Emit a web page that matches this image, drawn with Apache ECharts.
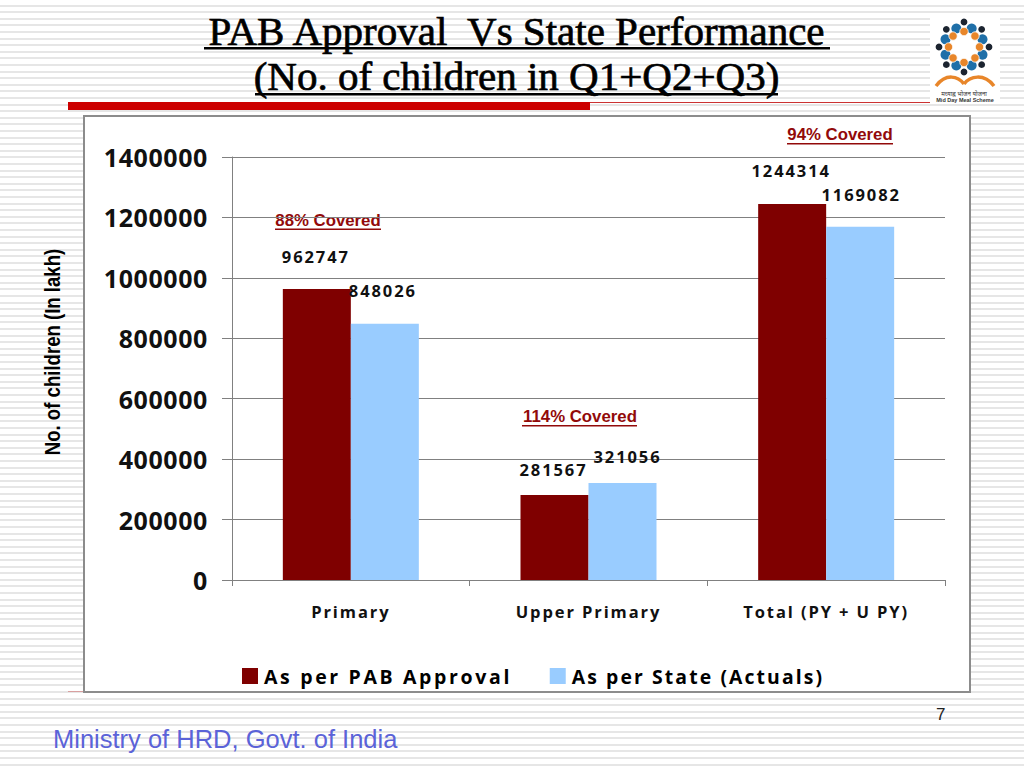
<!DOCTYPE html>
<html><head><meta charset="utf-8">
<style>
html,body{margin:0;padding:0;width:1024px;height:768px;overflow:hidden;background:#fff;}
#bg{position:absolute;left:0;top:0;width:1024px;height:768px;background:repeating-linear-gradient(180deg,#fff 0,#fff 4.5px,#e6e6e6 4.5px,#e6e6e6 6.6px);}
#c{position:absolute;left:0;top:0;width:1024px;height:768px;}
text[style*="19.5px"]{letter-spacing:2.65px;}
text[style*="19.4px"]{letter-spacing:2.1px;}
text[style*="16.5px"]{letter-spacing:1.9px;}
text[style*="25px"]{letter-spacing:.6px;}
</style>
<script src="https://cdn.jsdelivr.net/npm/echarts@6/dist/echarts.min.js"></script>
</head><body><div id="bg"></div><div id="c"></div>
<script>
const categories = ['Primary','Upper Primary','Total (PY + U PY)'];
const pabValues = [962747,281567,1244314];
const stateValues = [848026,321056,1169082];
const seriesNames = ['As per PAB Approval','As per State (Actuals)'];
const coverage = ['88% Covered','114% Covered','94% Covered'];
const pabLabelNudge = [[-1,-24],[-1,-17],[-1,-25]];
const stateLabelNudge = [[-2,-25],[5,-18],[1,-24]];
const chart = echarts.init(document.getElementById('c'),null,{renderer:'svg',width:1024,height:768});
const DARK='#7f0000', BLUE='#99ccff', sans='"Open Sans"';
function series(name,vals,color,nudge){
  return {name,type:'bar',barWidth:68,barGap:'0%',itemStyle:{color},
    data:vals.map((v,i)=>({value:v,label:{offset:nudge[i]}})),
    label:{show:true,position:'top',distance:0,color:'#111',fontFamily:sans,fontWeight:'bold',fontSize:16.5}};
}
const logo=[];
const cx=964,cy=47;
for(let i=0;i<8;i++){
  const a=i*Math.PI/4-Math.PI/2, ca=Math.cos(a), sa=Math.sin(a);
  logo.push({type:'circle',shape:{cx:cx+25*ca,cy:cy+25*sa,r:3.4},style:{fill:'#1c2430'}});
  const b=a+Math.PI/8;
  logo.push({type:'circle',shape:{cx:cx+20*Math.cos(b),cy:cy+20*Math.sin(b),r:5},style:{fill:'#1f6fa8'}});
}
for(let i=0;i<8;i++){
  const a=i*Math.PI/4-Math.PI/2;
  logo.push({type:'circle',shape:{cx:cx+15.5*Math.cos(a),cy:cy+15.5*Math.sin(a),r:4.2},style:{fill:'#e8862a',stroke:'#fff',lineWidth:.8}});
}
const RED='#920a0a';
function note(text,x,y){return {type:'text',style:{x,y,text,align:'center',verticalAlign:'middle',fontSize:16.8,fontWeight:'bold',fontFamily:'"Liberation Sans"',fill:RED}};}
chart.setOption({
  animation:false,
  backgroundColor:'transparent',
  title:{text:'PAB Approval  Vs State Performance\n(No. of children in Q1+Q2+Q3)',left:511.5,top:3,textAlign:'center',
    textStyle:{fontFamily:'"Liberation Serif"',fontWeight:'normal',fontSize:41,lineHeight:45.5,color:'#000',textBorderColor:'#000',textBorderWidth:.7}},
  grid:{left:232,right:79,top:157,bottom:188},
  legend:{show:true,left:237,top:661,itemWidth:16,itemHeight:16,itemGap:88,icon:'rect',
    data:[{name:seriesNames[0]},{name:seriesNames[1],textStyle:{fontSize:19.4}}],
    textStyle:{fontFamily:sans,fontWeight:'bold',fontSize:19.5,color:'#000',padding:[0,0,0,1]}},
  xAxis:{type:'category',data:categories,
    axisLine:{lineStyle:{color:'#808080'}},
    axisTick:{show:true,alignWithLabel:false,length:6,lineStyle:{color:'#808080'}},
    axisLabel:{color:'#111',fontFamily:sans,fontWeight:'bold',fontSize:16.5,margin:23}},
  yAxis:{type:'value',min:0,max:1400000,interval:200000,
    axisLine:{show:true,lineStyle:{color:'#808080'}},
    axisTick:{show:true,length:10,lineStyle:{color:'#808080'}},
    splitLine:{lineStyle:{color:'#808080'}},
    axisLabel:{color:'#111',fontFamily:sans,fontWeight:'bold',fontSize:25,margin:24,padding:[2,0,0,0],formatter:v=>String(v)}},
  series:[series(seriesNames[0],pabValues,DARK,pabLabelNudge),series(seriesNames[1],stateValues,BLUE,stateLabelNudge)],
  graphic:[
    {type:'group',z:-10,silent:true,children:[
      {type:'rect',shape:{x:68,y:102,width:522,height:8},style:{fill:'#cc0000'}},
      {type:'rect',shape:{x:590,y:102,width:340,height:1},style:{fill:'#cc3333'}},
      {type:'rect',shape:{x:68,y:691,width:16,height:1},style:{fill:'#d9a0a0'}},
      {type:'rect',shape:{x:84,y:116,width:886,height:576},style:{fill:'#fff',stroke:'#8c8c8c',lineWidth:2}},
      {type:'rect',shape:{x:930,y:18,width:70,height:86},style:{fill:'#fff'}},
    ]},
    {type:'group',silent:true,children:logo.concat([
      {type:'bezierCurve',shape:{x1:936,y1:86,x2:964,y2:84,cpx1:946,cpy1:73,cpx2:958,cpy2:76},style:{fill:'none',stroke:'#e8862a',lineWidth:3.5}},
      {type:'bezierCurve',shape:{x1:964,y1:84,x2:994,y2:86,cpx1:970,cpy1:76,cpx2:984,cpy2:73},style:{fill:'none',stroke:'#e8862a',lineWidth:3.5}},
      {type:'text',style:{x:964,y:91,text:'मध्याह्न भोजन योजना',align:'center',fontSize:6,fill:'#333',fontFamily:'"Noto Sans","DejaVu Sans"'}},
      {type:'text',style:{x:965,y:97,text:'Mid Day Meal Scheme',align:'center',fontSize:5.5,fontWeight:'bold',fill:'#333',fontFamily:'"Liberation Sans"'}},
    ])},
    {type:'group',silent:true,children:[
      {type:'rect',shape:{x:204,y:47,width:626,height:2.5},style:{fill:'#000'}},
      {type:'rect',shape:{x:255,y:93,width:523,height:2.5},style:{fill:'#000'}},
      note(coverage[0],328,220.5),
      {type:'rect',shape:{x:275,y:228.5,width:106,height:1.5},style:{fill:RED}},
      note(coverage[1],580,416.5),
      {type:'rect',shape:{x:522,y:425,width:115,height:1.5},style:{fill:RED}},
      note(coverage[2],840,134.5),
      {type:'rect',shape:{x:787,y:143,width:106,height:1.5},style:{fill:RED}},
      {type:'text',style:{x:53,y:739,text:'Ministry of HRD, Govt. of India',verticalAlign:'middle',fontSize:25.5,fontFamily:'"Liberation Sans"',fill:'#5b63d8'}},
      {type:'text',style:{x:936,y:714,text:'7',verticalAlign:'middle',fontSize:17,fontFamily:'"Liberation Sans"',fill:'#222'}},
      {type:'text',rotation:Math.PI/2,x:52,y:352,scaleX:.845,style:{x:0,y:0,text:'No. of children (In lakh)',align:'center',verticalAlign:'middle',fontSize:22,fontWeight:'bold',fontFamily:'"Liberation Sans"',fill:'#000'}},
    ]}
  ]
});
</script></body></html>
